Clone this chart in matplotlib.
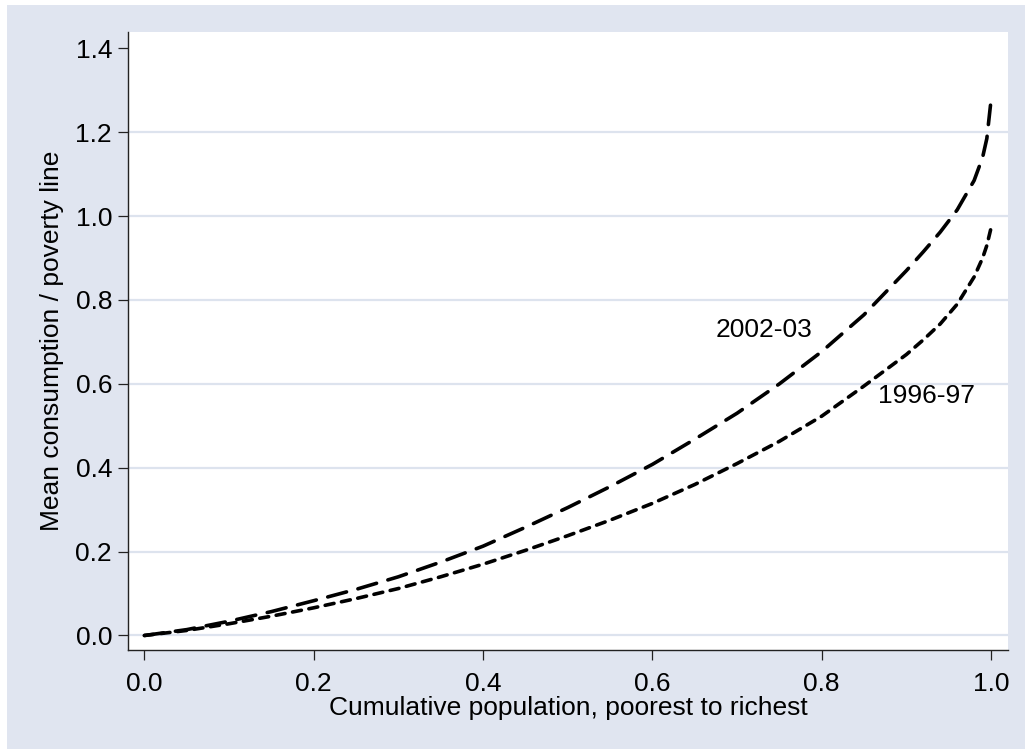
import matplotlib
matplotlib.use("Agg")
import matplotlib.pyplot as plt
from matplotlib.patches import Rectangle

# Data
pop_share = [0.0, 0.05, 0.10, 0.15, 0.20, 0.25, 0.30, 0.35, 0.40, 0.45, 0.50,
             0.55, 0.60, 0.65, 0.70, 0.75, 0.80, 0.85, 0.90, 0.92, 0.94,
             0.96, 0.98, 0.99, 0.995, 1.0]
glc_2002 = [0.0, 0.014, 0.034, 0.057, 0.083, 0.110, 0.140, 0.175, 0.213, 0.258,
            0.305, 0.355, 0.408, 0.468, 0.530, 0.600, 0.677, 0.765, 0.870, 0.915,
            0.962, 1.015, 1.085, 1.140, 1.185, 1.277]
glc_1996 = [0.0, 0.012, 0.028, 0.046, 0.066, 0.088, 0.112, 0.140, 0.170, 0.203,
            0.238, 0.275, 0.315, 0.360, 0.410, 0.463, 0.523, 0.595, 0.670, 0.705,
            0.743, 0.790, 0.855, 0.900, 0.930, 0.972]
series_labels = ["2002-03", "1996-97"]
x_ticks = [0.0, 0.2, 0.4, 0.6, 0.8, 1.0]
y_ticks = [0.0, 0.2, 0.4, 0.6, 0.8, 1.0, 1.2, 1.4]

plt.rcParams['font.family'] = ['Liberation Sans', 'DejaVu Sans']
plt.rcParams['lines.scale_dashes'] = False

W, H = 1025, 749
fig = plt.figure(figsize=(W / 100, H / 100), dpi=100, facecolor='white')
bg = '#E0E5F0'
fig.patches.append(Rectangle((7 / W, 0), 1 - 7 / W, 1 - 5 / H,
                             transform=fig.transFigure, facecolor=bg,
                             edgecolor='none', zorder=-10))

ax = fig.add_axes([128 / W, 99 / H, 880 / W, 618 / H])
ax.set_facecolor('white')

for yv in y_ticks[:-1]:
    ax.axhline(yv, color='#DDE3EE', lw=1.6, zorder=1)

ax.plot(pop_share, glc_2002, color='black', lw=2.6,
        dashes=(14, 8.5), dash_capstyle='round', zorder=3)
ax.plot(pop_share, glc_1996, color='black', lw=2.6,
        dashes=(6.5, 5.5), dash_capstyle='round', zorder=3)

fs = 19
ax.text(0.675, 0.728, series_labels[0], fontsize=fs, va='center', ha='left')
ax.text(0.866, 0.571, series_labels[1], fontsize=fs, va='center', ha='left')

ax.set_xlim(-0.0194, 1.020)
ax.set_ylim(-0.0346, 1.439)
ax.set_xticks(x_ticks)
ax.set_yticks(y_ticks)
ax.set_xticklabels([f"{v:.1f}" for v in x_ticks])
ax.set_yticklabels([f"{v:.1f}" for v in y_ticks])

for s in ['top', 'right']:
    ax.spines[s].set_visible(False)
for s in ['left', 'bottom']:
    ax.spines[s].set_color('#222222')
    ax.spines[s].set_linewidth(1.0)

ax.tick_params(axis='both', direction='out', length=7.5, width=0.9,
               color='#222222', labelsize=fs)
ax.tick_params(axis='x', pad=8)
ax.tick_params(axis='y', pad=4)

ax.set_xlabel("Cumulative population, poorest to richest", fontsize=fs, labelpad=0)
ax.set_ylabel("Mean consumption / poverty line", fontsize=fs, labelpad=8)

fig.savefig("out.png", dpi=100, facecolor=fig.get_facecolor())
